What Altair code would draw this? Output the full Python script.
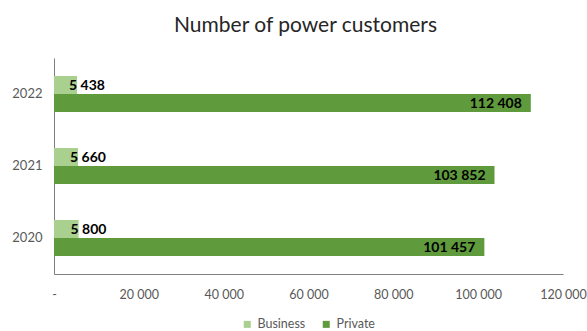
import altair as alt
import pandas as pd

years = ["2022", "2021", "2020"]
business = [5438, 5660, 5800]
private = [112408, 103852, 101457]
series = ["Business", "Private"]
colors = ["#a9d08e", "#5f9b3d"]

rows = []
for y, b, p in zip(years, business, private):
    rows.append({"year": y, "type": "Business", "value": b})
    rows.append({"year": y, "type": "Private", "value": p})
df = pd.DataFrame(rows)
df["label"] = df["value"].map(lambda v: f"{v:,}".replace(",", " "))

FONT = "Lato"

base = alt.Chart(df).encode(
    y=alt.Y(
        "year:N",
        sort=years,
        title=None,
        scale=alt.Scale(paddingInner=0.5, paddingOuter=0.25),
        axis=alt.Axis(
            ticks=False,
            labelFontSize=13,
            labelColor="#595959",
            labelPadding=12,
            domainColor="#7f7f7f",
            labelFont=FONT,
        ),
    ),
    yOffset=alt.YOffset("type:N", sort=series, scale=alt.Scale(paddingInner=0, paddingOuter=0)),
)

bars = base.mark_bar().encode(
    x=alt.X(
        "value:Q",
        title=None,
        scale=alt.Scale(domain=[0, 120000], nice=False),
        axis=alt.Axis(
            values=[0, 20000, 40000, 60000, 80000, 100000, 120000],
            labelExpr="datum.value == 0 ? '-' : format(datum.value / 1000, 'd') + ' 000'",
            labelFlush=False,
            labelBound=False,
            grid=False,
            ticks=False,
            labelFontSize=12.5,
            labelColor="#595959",
            labelPadding=14,
            domainColor="#7f7f7f",
            labelFont=FONT,
        ),
    ),
    color=alt.Color(
        "type:N",
        sort=series,
        scale=alt.Scale(domain=series, range=colors),
        legend=alt.Legend(
            title=None,
            orient="none",
            direction="horizontal",
            legendX=187,
            legendY=260,
            symbolType="square",
            symbolSize=49,
            symbolStrokeWidth=0,
            labelFontSize=12.5,
            labelColor="#595959",
            labelFont=FONT,
            labelOffset=4,
            columnPadding=14,
        ),
    ),
)

biz_labels = base.transform_filter(alt.datum.type == "Business").mark_text(
    align="left", baseline="middle", dx=-8, dy=1, fontSize=14, fontWeight="bold", color="#000000", font=FONT
).encode(x="value:Q", text="label:N")

priv_labels = base.transform_filter(alt.datum.type == "Private").mark_text(
    align="right", baseline="middle", dx=-9, dy=1, fontSize=14, fontWeight="bold", color="#000000", font=FONT
).encode(x="value:Q", text="label:N")

chart = (
    alt.layer(bars, biz_labels, priv_labels)
    .properties(
        width=509,
        height=216,
        autosize=alt.AutoSizeParams(type="none"),
        padding={"left": 54, "top": 58, "right": 24, "bottom": 57},
        title=alt.Title(
            "Number of power customers",
            fontSize=21,
            fontWeight="normal",
            font=FONT,
            color="#262626",
            anchor="middle",
            dx=-3,
            offset=5,
            baseline="alphabetic",
        ),
    )
    .configure_view(stroke=None)
)

chart.save("out.html", embed_options={"renderer": "svg", "actions": False})
